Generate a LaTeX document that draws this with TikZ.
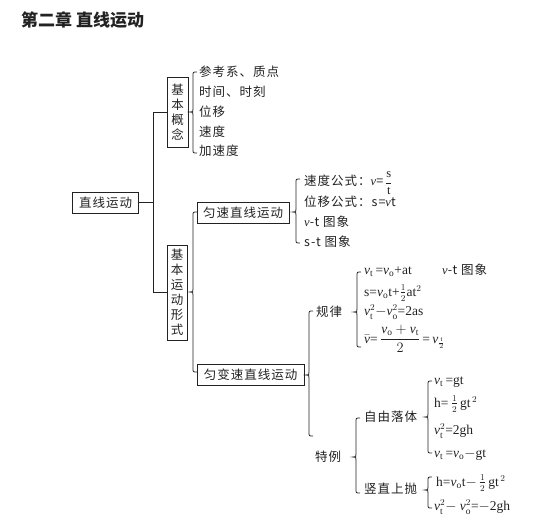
\documentclass[tikz,border=0pt]{standalone}
\usepackage{amsmath}
\usepackage{fontspec}
\setmainfont{Liberation Serif}
\newfontfamily\cjk[LetterSpace=8]{Noto Sans CJK SC}
\newfontfamily\cjkt{Noto Sans CJK SC}
\definecolor{ink}{HTML}{222222}
\newcommand\vi{{\rmfamily\itshape v}}
\newcommand\mybrace[4]{%
\draw[bracel] ({#1+4},#2) .. controls (#1,#2) .. (#1,{#2+4}) -- (#1,{#3-3})
 .. controls (#1,#3) .. ({#1-3},#3) .. controls (#1,#3) .. (#1,{#3+3})
 -- (#1,{#4-4}) .. controls (#1,#4) .. ({#1+4},#4);}
\tikzset{
 bracel/.style={line width=0.8pt, ink},
 conn/.style={line width=0.9pt, ink},
 hbox/.style={draw=ink, line width=0.9pt, inner sep=0pt, text=ink,
   font=\cjk\fontsize{12.5}{15}\selectfont},
 vbox/.style={hbox, align=center, font=\cjk\fontsize{12.5}{15}\selectfont},
 item/.style={anchor=west, inner sep=0pt, text=ink, font=\cjk\fontsize{12.5}{15}\selectfont},
 fml/.style={anchor=west, inner sep=0pt, text=ink, font=\fontsize{13.5}{15}\selectfont},
}
\begin{document}
\begin{tikzpicture}[x=1pt,y=-1pt]
\useasboundingbox[fill=white] (0,0) rectangle (535,527);
% title
\node[anchor=west, inner sep=0pt, text=ink, font=\cjkt\bfseries\fontsize{17}{20}\selectfont] (title) at (21,20) {第二章 直线运动};
% main boxes
\node[hbox, minimum width=66pt, minimum height=21pt] (zx) at (105.5,202.5) {直线运动};
\node[vbox, minimum width=21pt, minimum height=70pt] (gn) at (177.5,112) {基\\本\\概\\念};
\node[vbox, minimum width=20pt, minimum height=95pt] (yd) at (177,292.5) {基\\本\\运\\动\\形\\式};
\node[hbox, minimum width=92pt, minimum height=21pt] (ys) at (243,212.5) {匀速直线运动};
\node[hbox, minimum width=107pt, minimum height=21pt] (yb) at (250.5,374.5) {匀变速直线运动};
% connectors
\coordinate (j) at (153.5,202.5);
\draw[conn] (zx.east) -- (j);
\draw[conn] (gn.west) -- (gn.west -| j) -- (yd.west -| j) -- (yd.west);
% brace 1: basic concepts
\mybrace{193}{72}{112}{153}
\node[item] (c1) at (199,72) {参考系、质点};
\node[item] (c2) at (199,92) {时间、时刻};
\node[item] (c3) at (199,112) {位移};
\node[item] (c4) at (199,132) {速度};
\node[item] (c5) at (199,151) {加速度};
% brace 2: forms
\mybrace{193}{212}{292}{372}
% brace 3: uniform
\mybrace{296}{179}{212}{243}
\node[item] (u1) at (304,183) {速度公式：\vi=\,$\dfrac{\mathrm{s}}{\mathrm{t}}$};
\node[item] (u2) at (304,202) {位移公式：s=\vi t};
\node[item] (u3) at (304,222) {\vi-t 图象};
\node[item] (u4) at (304,242) {s-t 图象};
% brace 4: accelerated
\mybrace{309}{311}{375}{436}
\node[item] (gl) at (316,312) {规律};
\node[item] (tl) at (315,457) {特例};
% brace 5: laws
\mybrace{357}{272}{312}{347}
\node[fml] (l1) at (364,272) {\vi$_{\mathrm t}$\,=\vi$_{\mathrm o}$+at};
\node[item] (l1b) at (442,270) {\vi-t 图象};
\node[fml] (l2) at (364,293) {s=\vi$_{\mathrm o}$t+$\frac{1}{2}$at$^{2}$};
\node[fml] (l3) at (364,312) {\vi$_{\mathrm t}^{2}$$-$\vi$_{\mathrm o}^{2}$=2as};
\node[fml] (l4) at (364,339) {$\bar{\mbox{\vi}}$=\,$\dfrac{\mbox{\vi}_{\mathrm o}+\mbox{\vi}_{\mathrm t}}{2}$\,=\,\vi$_{\frac{\mathrm t}{2}}$};
% brace 6: special cases
\mybrace{356}{418}{457}{493}
\node[item] (zy) at (364,417) {自由落体};
\node[item] (sz) at (364,489) {竖直上抛};
% brace 7: free fall
\mybrace{428}{381}{417}{453}
\node[fml] (f1) at (434,382) {\vi$_{\mathrm t}$\,=gt};
\node[fml] (f2) at (434,404) {h=\,$\frac{1}{2}$\,gt$^{\,2}$};
\node[fml] (f3) at (434,431) {\vi$_{\mathrm t}^{2}$=2gh};
\node[fml] (f4) at (434,455) {\vi$_{\mathrm t}$\,=\vi$_{\mathrm o}$$-$gt};
% brace 8: vertical throw
\mybrace{428}{477}{490}{508}
\node[fml] (s1) at (436,483) {h=\vi$_{\mathrm o}$t$-$\,$\frac{1}{2}$\,gt$^{\,2}$};
\node[fml] (s2) at (434,507) {\vi$_{\mathrm t}^{2}$$-$ \vi$_{\mathrm o}^{2}$=$-$2gh};
\end{tikzpicture}
\end{document}
